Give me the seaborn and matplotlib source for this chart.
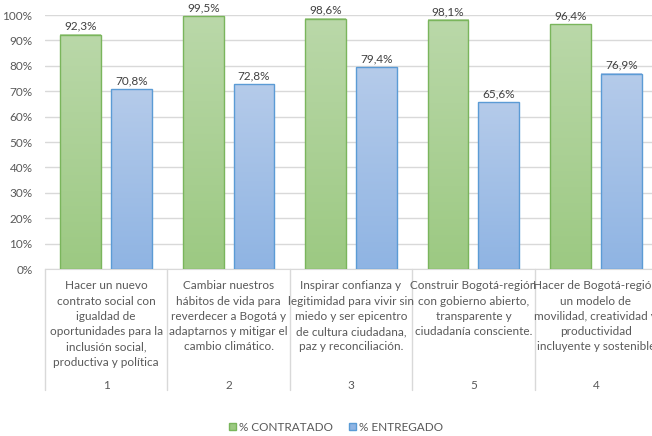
import numpy as np
import matplotlib
matplotlib.use("Agg")
import matplotlib.pyplot as plt
import matplotlib.transforms as mtransforms
from matplotlib.colors import LinearSegmentedColormap
from matplotlib.patches import Patch
import pandas as pd
import seaborn as sns

ejes = ['1', '2', '3', '5', '4']
textos = [
    'Hacer un nuevo\ncontrato social con\nigualdad de\noportunidades para la\ninclusión social,\nproductiva y política',
    'Cambiar nuestros\nhábitos de vida para\nreverdecer a Bogotá y\nadaptarnos y mitigar el\ncambio climático.',
    'Inspirar confianza y\nlegitimidad para vivir sin\nmiedo y ser epicentro\nde cultura ciudadana,\npaz y reconciliación.',
    'Construir Bogotá-región\ncon gobierno abierto,\ntransparente y\nciudadanía consciente.',
    'Hacer de Bogotá-región\nun modelo de\nmovilidad, creatividad y\nproductividad\nincluyente y sostenible',
]
contratado = [92.3, 99.5, 98.6, 98.1, 96.4]
entregado = [70.8, 72.8, 79.4, 65.6, 76.9]
series = ['% CONTRATADO', '% ENTREGADO']

df = pd.DataFrame({
    'eje': ejes * 2,
    'valor': contratado + entregado,
    'serie': [series[0]] * len(ejes) + [series[1]] * len(ejes),
})

sns.set_style('white')
plt.rcParams['font.family'] = ['Lato', 'DejaVu Sans']
gris = '#595959'
fs = 8.5

estilos = {
    series[0]: ('#bad8a9', '#9cc982', '#7ab55c'),
    series[1]: ('#b5cbea', '#8fb4e3', '#5b9bd5'),
}

fig = plt.figure(figsize=(6.52, 4.36), dpi=100)
ax = fig.add_axes([45 / 652, 167 / 436, 612 / 652, 254 / 436])

sns.barplot(data=df, x='eje', y='valor', hue='serie', order=ejes, hue_order=series,
            width=0.83, gap=0.2, ax=ax, legend=False, zorder=3)

ax.set_ylim(0, 100)
ax.set_xlim(-0.5, len(ejes) - 0.5)
ax.set_yticks(np.arange(0, 101, 10))
ax.set_yticklabels([f'{int(t)}%' for t in np.arange(0, 101, 10)], fontsize=fs, color=gris)
ax.yaxis.grid(True, color='#d9d9d9', linewidth=1, zorder=0)
ax.set_axisbelow(True)
for s in ['left', 'right', 'top']:
    ax.spines[s].set_visible(False)
ax.spines['bottom'].set_color('#d9d9d9')
ax.tick_params(axis='y', length=0, pad=9)
ax.tick_params(axis='x', length=0)
ax.set_xticklabels([])
ax.set_xlabel('')
ax.set_ylabel('')

# degradado en cada barra
grad = np.linspace(0, 1, 256).reshape(-1, 1)
for cont, serie in zip(ax.containers, series):
    top, bottom, edge = estilos[serie]
    cmap = LinearSegmentedColormap.from_list(serie, [bottom, top])
    for p in cont.patches:
        x0, w, h = p.get_x(), p.get_width(), p.get_height()
        ax.imshow(grad, extent=[x0, x0 + w, 0, h], origin='lower', cmap=cmap,
                  aspect='auto', zorder=3.5, interpolation='bilinear')
        p.set_facecolor('none')
        p.set_edgecolor(edge)
        p.set_linewidth(1)
        p.set_zorder(4)
    etiquetas = [f'{v:.1f}%'.replace('.', ',') for v in cont.datavalues]
    ax.bar_label(cont, labels=etiquetas, padding=2, fontsize=fs, color='#404040', clip_on=False)
ax.set_xlim(-0.5, len(ejes) - 0.5)
ax.set_ylim(0, 100)

# etiquetas de categoria en dos niveles
trans = mtransforms.blended_transform_factory(ax.transData, ax.transAxes)
for i in range(len(ejes) + 1):
    ax.plot([i - 0.5, i - 0.5], [0, -0.475], transform=trans, color='#d9d9d9',
            linewidth=1, clip_on=False)
for i, (eje, txt) in enumerate(zip(ejes, textos)):
    ax.text(i, -0.045, txt, transform=trans, ha='center', va='top', fontsize=fs,
            color=gris, linespacing=1.47)
    ax.text(i, -0.457, eje, transform=trans, ha='center', va='center', fontsize=fs, color=gris)

handles = [Patch(facecolor=estilos[s][1], edgecolor=estilos[s][2]) for s in series]
fig.legend(handles, series, loc='center', bbox_to_anchor=(336 / 652, 1 - 427 / 436), ncol=2,
           frameon=False, fontsize=fs, labelcolor=gris, handlelength=0.6, handleheight=0.6,
           handletextpad=0.3, columnspacing=1.3)

fig.savefig('out.png', dpi=100)
